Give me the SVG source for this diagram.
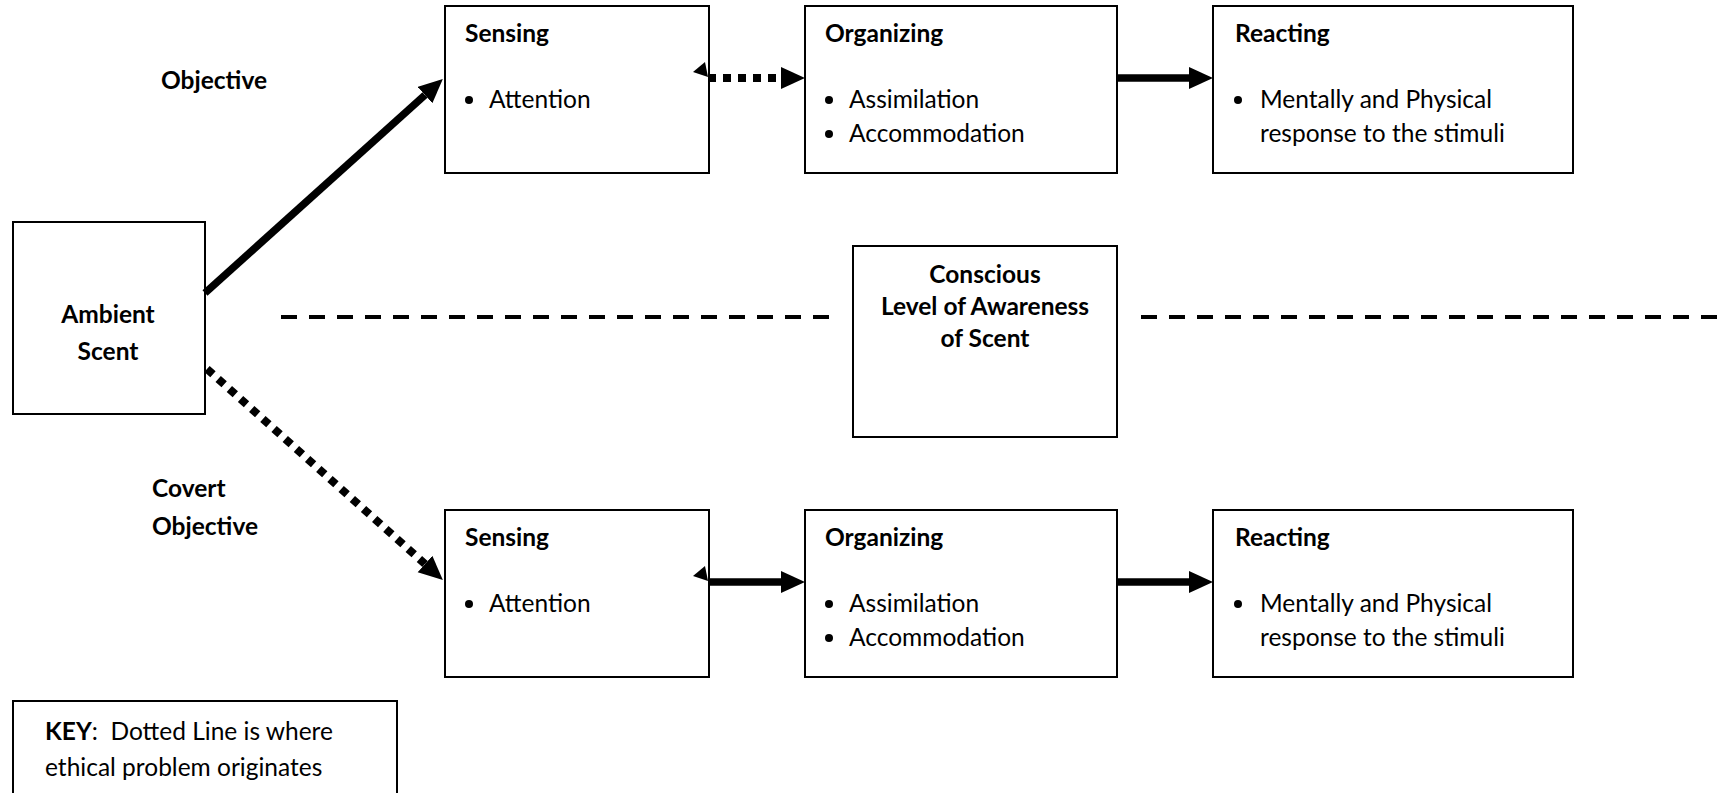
<svg xmlns="http://www.w3.org/2000/svg" width="1723" height="793" viewBox="0 0 1723 793">
<style>
.box{fill:#fff;stroke:#000;stroke-width:2}
.t{font-family:Lato,"Open Sans","Liberation Sans",sans-serif;font-size:24.5px;fill:#000}
.b{font-weight:bold}
.c{text-anchor:middle}
.solid{stroke:#000;stroke-width:7.5;fill:none}
.dot{stroke:#000;stroke-width:8;fill:none;stroke-dasharray:8 7}
.dash{stroke:#000;stroke-width:4;fill:none;stroke-dasharray:16 12}
.bul{fill:#000}
</style>
<defs>
<marker id="ah" markerUnits="userSpaceOnUse" markerWidth="26" markerHeight="24" refX="0" refY="11" orient="auto">
<path d="M0,0 L24,11 L0,22 z" fill="#000"/>
</marker>
</defs>
<rect width="1723" height="793" fill="#fff"/>

<g id="labels">
<text class="t b" x="161" y="89">Objective</text>
<text class="t b" x="152" y="497">Covert</text>
<text class="t b" x="152" y="535">Objective</text>
</g>

<g id="ambient">
<rect class="box" x="13" y="222" width="192" height="192"/>
<text class="t b c" x="108" y="323">Ambient</text>
<text class="t b c" x="108" y="360">Scent</text>
</g>

<g id="sensing-top">
<rect class="box" x="445" y="6" width="264" height="167"/>
<text class="t b" x="465" y="42">Sensing</text>
<circle class="bul" cx="469" cy="100" r="4"/>
<text class="t" x="489" y="108">Attention</text>
</g>

<g id="organizing-top">
<rect class="box" x="805" y="6" width="312" height="167"/>
<text class="t b" x="825" y="42">Organizing</text>
<circle class="bul" cx="829" cy="100" r="4"/>
<text class="t" x="849" y="108">Assimilation</text>
<circle class="bul" cx="829" cy="134" r="4"/>
<text class="t" x="849" y="142">Accommodation</text>
</g>

<g id="reacting-top">
<rect class="box" x="1213" y="6" width="360" height="167"/>
<text class="t b" x="1235" y="42">Reacting</text>
<circle class="bul" cx="1238" cy="100" r="4"/>
<text class="t" x="1260" y="108">Mentally and Physical</text>
<text class="t" x="1260" y="142">response to the stimuli</text>
</g>

<g id="conscious">
<rect class="box" x="853" y="246" width="264" height="191"/>
<text class="t b c" x="985" y="283">Conscious</text>
<text class="t b c" x="985" y="315">Level of Awareness</text>
<text class="t b c" x="985" y="347">of Scent</text>
</g>

<g id="sensing-bottom">
<rect class="box" x="445" y="510" width="264" height="167"/>
<text class="t b" x="465" y="546">Sensing</text>
<circle class="bul" cx="469" cy="604" r="4"/>
<text class="t" x="489" y="612">Attention</text>
</g>

<g id="organizing-bottom">
<rect class="box" x="805" y="510" width="312" height="167"/>
<text class="t b" x="825" y="546">Organizing</text>
<circle class="bul" cx="829" cy="604" r="4"/>
<text class="t" x="849" y="612">Assimilation</text>
<circle class="bul" cx="829" cy="638" r="4"/>
<text class="t" x="849" y="646">Accommodation</text>
</g>

<g id="reacting-bottom">
<rect class="box" x="1213" y="510" width="360" height="167"/>
<text class="t b" x="1235" y="546">Reacting</text>
<circle class="bul" cx="1238" cy="604" r="4"/>
<text class="t" x="1260" y="612">Mentally and Physical</text>
<text class="t" x="1260" y="646">response to the stimuli</text>
</g>

<g id="key">
<rect class="box" x="13" y="701" width="384" height="110"/>
<text class="t" x="45" y="740" xml:space="preserve"><tspan class="b">KEY</tspan>:  Dotted Line is where</text>
<text class="t" x="45" y="776">ethical problem originates</text>
</g>

<g id="connectors">
<line class="solid" x1="205" y1="293" x2="425" y2="95" marker-end="url(#ah)"/>
<line class="dot" x1="207" y1="369" x2="425" y2="564" marker-end="url(#ah)"/>
<line class="dot" x1="708" y1="78" x2="781" y2="78" marker-end="url(#ah)"/>
<polygon points="693,72 705,62 708,77" fill="#000"/>
<line class="solid" x1="1117" y1="78" x2="1189" y2="78" marker-end="url(#ah)"/>
<line class="solid" x1="709" y1="582" x2="781" y2="582" marker-end="url(#ah)"/>
<polygon points="693,576 705,566 708,581" fill="#000"/>
<line class="solid" x1="1117" y1="582" x2="1189" y2="582" marker-end="url(#ah)"/>
<line class="dash" x1="281" y1="317" x2="830" y2="317"/>
<line class="dash" x1="1141" y1="317" x2="1717" y2="317"/>
</g>
</svg>
